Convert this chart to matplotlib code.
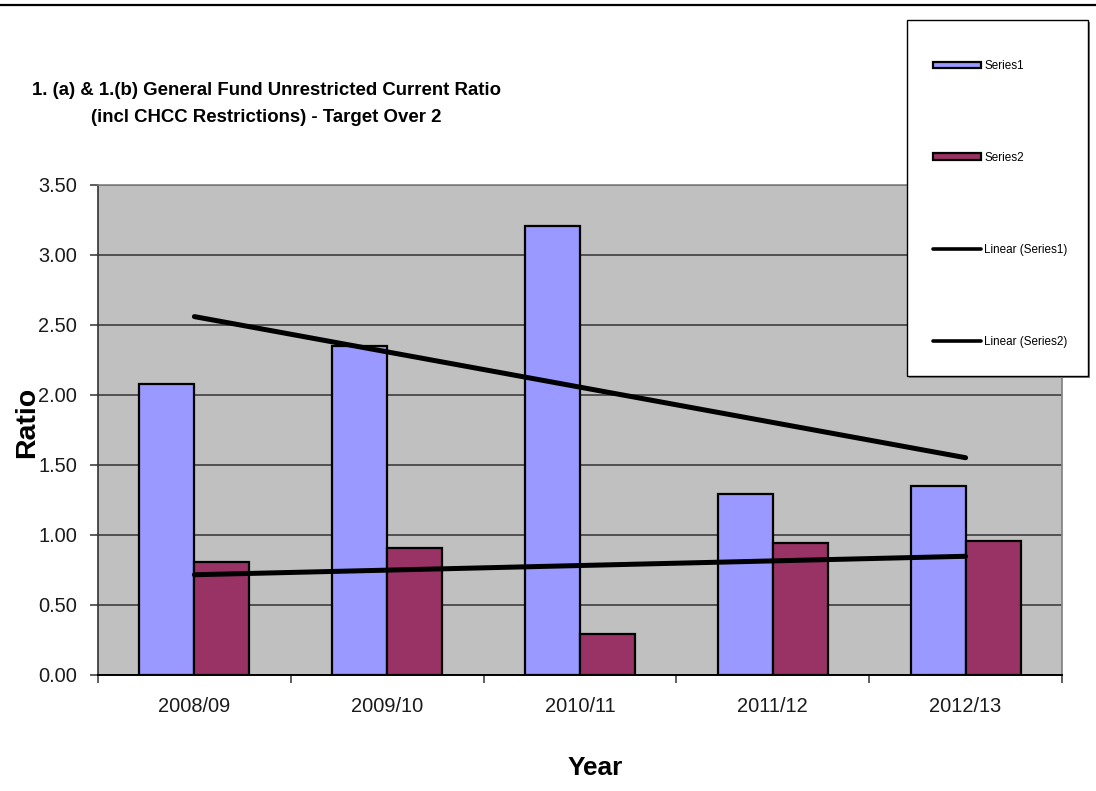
import numpy as np
import matplotlib
matplotlib.use("Agg")
import matplotlib.pyplot as plt
from matplotlib import font_manager
from matplotlib.lines import Line2D
from matplotlib.patches import Rectangle

# ---- data ----
years = ["2008/09", "2009/10", "2010/11", "2011/12", "2012/13"]
series1 = [2.08, 2.35, 3.21, 1.29, 1.35]
series2 = [0.81, 0.91, 0.29, 0.94, 0.96]
series_names = ["Series1", "Series2"]
yticks = [0.0, 0.5, 1.0, 1.5, 2.0, 2.5, 3.0, 3.5]

# ---- fonts ----
available = {f.name for f in font_manager.fontManager.ttflist}
if "Liberation Sans Narrow" in available:
    NARROW, SCALE = "Liberation Sans Narrow", 1.0
else:
    NARROW, SCALE = "Liberation Sans", 0.84
WIDE = "Liberation Sans" if "Liberation Sans" in available else "DejaVu Sans"

W, H = 1096, 791
fig = plt.figure(figsize=(W / 100, H / 100), dpi=100)
fig.patch.set_facecolor("white")


def fx(px):
    return px / W


def fy(py):
    return 1 - py / H


ax = fig.add_axes([fx(98), fy(675), fx(1062) - fx(98), fy(185) - fy(675)])
ax.set_facecolor("#C0C0C0")

x = np.arange(len(years))
bw = 0.285
c1, c2 = "#9999FF", "#993366"
b1 = ax.bar(x - bw / 2, series1, bw, color=c1, edgecolor="black", linewidth=1.6,
            zorder=2, label=series_names[0])
b2 = ax.bar(x + bw / 2, series2, bw, color=c2, edgecolor="black", linewidth=1.6,
            zorder=2, label=series_names[1])

# linear trend lines across the category centres
trend_handles = []
for vals, name in zip([series1, series2], series_names):
    k, b = np.polyfit(x + 1, vals, 1)
    (ln,) = ax.plot(x, k * (x + 1) + b, color="black", lw=3.6,
                    solid_capstyle="round", zorder=3, label=f"Linear ({name})")
    trend_handles.append(ln)

ax.set_xlim(-0.5, len(years) - 0.5)
ax.set_ylim(0, 3.5)
ax.set_yticks(yticks)
ax.set_yticklabels([f"{v:.2f}" for v in yticks], fontfamily=NARROW,
                   fontsize=17.2 * SCALE, color="#1a1a1a")
ax.yaxis.grid(True, color="#333333", lw=1.1, zorder=1)
ax.set_axisbelow(True)
ax.tick_params(axis="y", length=6, width=1.1, color="#333333", pad=9)

# category boundaries carry the tick marks, labels sit at the centres
ax.set_xticks(np.arange(-0.5, len(years), 1.0))
ax.set_xticklabels([])
ax.tick_params(axis="x", which="major", length=6, width=1.1, color="#333333")
ax.set_xticks(x, minor=True)
ax.set_xticklabels(years, minor=True, fontfamily=NARROW, fontsize=17.2 * SCALE,
                   color="#1a1a1a")
ax.tick_params(axis="x", which="minor", length=0, pad=16)

for side in ["top", "right"]:
    ax.spines[side].set_color("#808080")
    ax.spines[side].set_linewidth(1.2)
ax.spines["left"].set_color("#333333")
ax.spines["left"].set_linewidth(1.2)
ax.spines["bottom"].set_color("black")
ax.spines["bottom"].set_linewidth(1.4)

# titles
fig.text(fx(32), fy(82), "1. (a) & 1.(b) General Fund Unrestricted Current Ratio\n"
         "(incl CHCC Restrictions) - Target Over 2", ha="left", va="top",
         multialignment="center", fontfamily=NARROW, fontweight="bold",
         fontsize=16 * SCALE, linespacing=1.8)
fig.text(fx(27), fy(422), "Ratio", rotation=90, ha="center", va="center",
         fontfamily=WIDE, fontweight="bold", fontsize=20.5)
fig.text(fx(595), fy(768), "Year", ha="center", va="center",
         fontfamily=NARROW, fontweight="bold", fontsize=22.5 * SCALE)

# rule across the top of the page
fig.add_artist(Line2D([0, 1], [fy(5), fy(5)], color="black", lw=1.6))

# legend box with a soft shadow
fig.add_artist(Rectangle((fx(909), fy(378)), fx(181), fy(20) - fy(376),
                         facecolor="#808080", edgecolor="none", zorder=4))
fig.add_artist(Rectangle((fx(907), fy(376)), fx(181), fy(20) - fy(376),
                         facecolor="white", edgecolor="black", lw=1.0, zorder=5))
leg = fig.legend(handles=[b1, b2] + trend_handles, loc="upper left",
                 bbox_to_anchor=(fx(933), fy(60)), frameon=False,
                 prop={"family": NARROW, "size": 10 * SCALE},
                 handlelength=4.1, handleheight=0.5, handletextpad=0.3,
                 labelspacing=6.85, borderpad=0, borderaxespad=0)
leg.set_zorder(6)
for h in leg.legend_handles[2:]:
    h.set_linewidth(2.6)

fig.savefig("out.png", dpi=100, facecolor="white")
